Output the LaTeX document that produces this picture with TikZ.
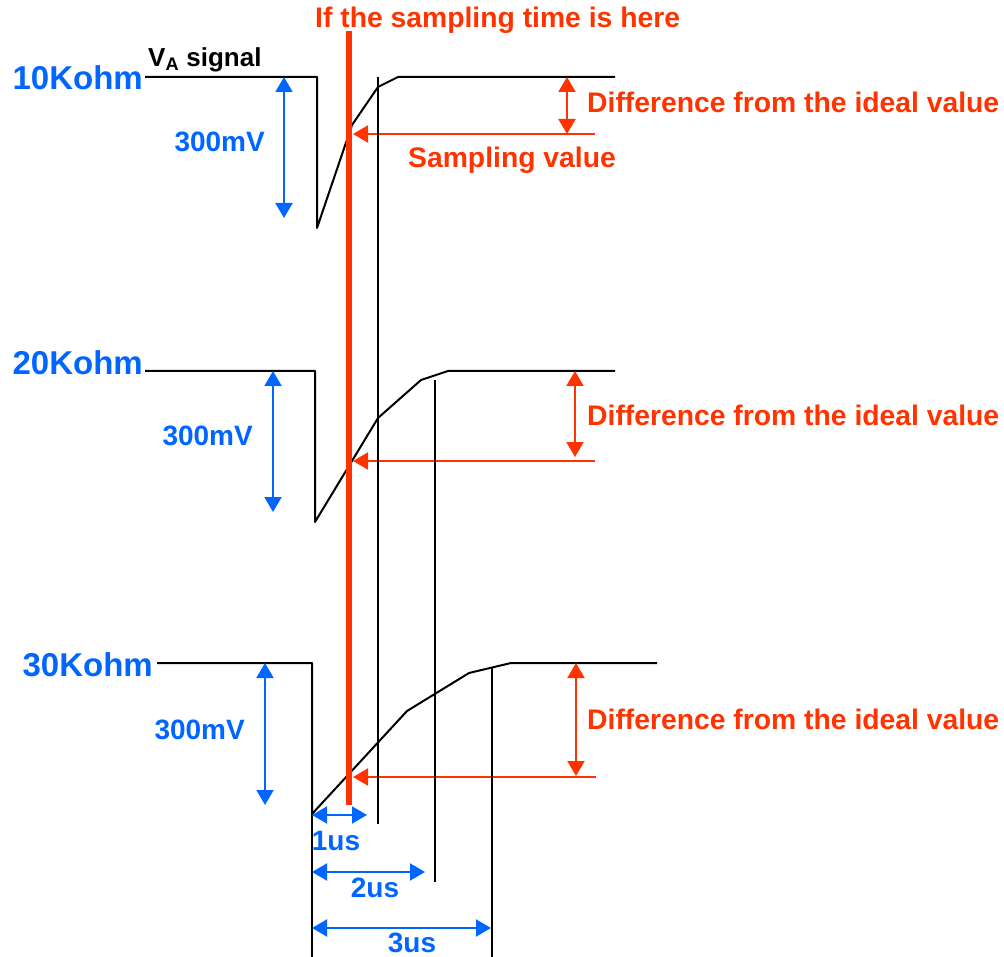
\documentclass[tikz,border=0pt]{standalone}
\usepackage{fontspec}
\setmainfont{Liberation Sans}
\usetikzlibrary{arrows.meta}
\definecolor{ohmblue}{RGB}{0,102,255}
\definecolor{samplered}{RGB}{255,51,0}

\begin{document}
\begin{tikzpicture}[x=1pt, y=-1pt, line join=round,
  sig/.style={line width=2pt, black},
  bluearrow/.style={line width=2pt, ohmblue, {Triangle[length=15pt, width=17pt]}-{Triangle[length=15pt, width=17pt]}},
  redarrow/.style={line width=2pt, samplered, {Triangle[length=15pt, width=17pt]}-{Triangle[length=15pt, width=17pt]}},
  readarrow/.style={line width=2pt, samplered, {Triangle[length=15pt, width=17pt]}-},
  ohmlabel/.style={font=\bfseries\fontsize{33}{36}\selectfont, text=ohmblue, inner sep=0pt},
  bluetext/.style={font=\bfseries\fontsize{28}{32}\selectfont, text=ohmblue, inner sep=0pt},
  redtext/.style={font=\bfseries\fontsize{28.3}{32}\selectfont, text=samplered, inner sep=0pt}]
\useasboundingbox (0,0) rectangle (1004,957);

% Sampling instant
\coordinate (ST) at (349,31);
\coordinate (SB) at (349,805);
\node[redtext, anchor=base west] (title) at (315,28) {If the sampling time is here};

% 10Kohm waveform
\draw[sig] (145,77) -- (317,77) -- (317,228) -- (352,125) -- (378,87) -- (398,77) -- (615,77);
\node[ohmlabel, anchor=base east] (r10) at (143,90) {10Kohm};
\node[font=\bfseries\fontsize{26}{30}\selectfont, anchor=base west, inner sep=0pt] (va) at (148,67) {V\textsubscript{A} signal};
\draw[bluearrow] (284,77) -- (284,218);
\node[bluetext, anchor=base east] (mv10) at (265,152) {300mV};
\coordinate (D10) at (595,134);
\draw[readarrow] (353,134) -- (D10);
\draw[redarrow] (567,77) -- (567,134);
\node[redtext, anchor=base west] (diff10) at (587,113) {Difference from the ideal value};
\node[redtext, anchor=base west] (sv) at (408,168) {Sampling value};

% 20Kohm waveform
\draw[sig] (145,371) -- (315,371) -- (315,522) -- (378,418) -- (421,380) -- (448,371) -- (615,371);
\node[ohmlabel, anchor=base east] (r20) at (143,375) {20Kohm};
\draw[bluearrow] (273,371) -- (273,512);
\node[bluetext, anchor=base east] (mv20) at (253,445) {300mV};
\coordinate (D20) at (595,461);
\draw[readarrow] (353,461) -- (D20);
\draw[redarrow] (575,371) -- (575,457);
\node[redtext, anchor=base west] (diff20) at (587,425) {Difference from the ideal value};

% 30Kohm waveform
\draw[sig] (157,663) -- (312,663) -- (312,814) -- (407,711) -- (469,673) -- (511,663) -- (657,663);
\node[ohmlabel, anchor=base east] (r30) at (153,676) {30Kohm};
\draw[bluearrow] (265,663) -- (265,805);
\node[bluetext, anchor=base east] (mv30) at (245,739) {300mV};
\coordinate (D30) at (596,777);
\draw[readarrow] (353,777) -- (D30);
\draw[redarrow] (576,663) -- (576,776);
\node[redtext, anchor=base west] (diff30) at (587,729) {Difference from the ideal value};

% Time markers
\draw[sig] (312,814) -- (312,957);
\draw[sig] (378,77) -- (378,824);
\draw[sig] (435,380) -- (435,882);
\draw[sig] (492,667) -- (492,957);
\draw[bluearrow] (312,815) -- (367,815);
\node[bluetext, anchor=base] (t1) at (336,850) {1us};
\draw[bluearrow] (312,872) -- (425,872);
\node[bluetext, anchor=base] (t2) at (375,897) {2us};
\draw[bluearrow] (312,928) -- (491,928);
\node[bluetext, anchor=base] (t3) at (412,952) {3us};

% Sampling line on top
\draw[line width=6pt, samplered] (ST) -- (SB);
\end{tikzpicture}
\end{document}
